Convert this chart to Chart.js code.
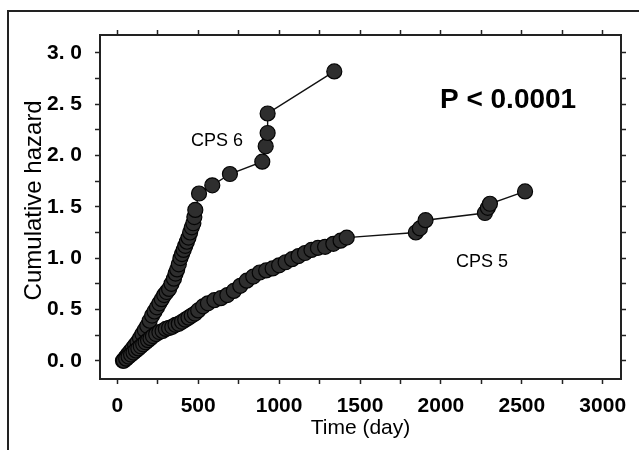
<!DOCTYPE html>
<html><head><meta charset="utf-8">
<script src="https://cdn.jsdelivr.net/npm/chart.js@4"></script>
<style>
html,body{margin:0;padding:0;background:#fff;overflow:hidden;}
#wrap{position:relative;width:639px;height:450px;}
#frame{position:absolute;left:7px;top:10px;width:640px;height:450px;border-left:2px solid #222;border-top:2px solid #222;}
canvas{position:absolute;left:0;top:0;}
</style></head><body>
<div id="wrap"><div id="frame"></div><canvas id="c" width="639" height="450"></canvas></div>
<script>
// CPS 6 series
const cps6Days = [35,50,65,80,95,110,125,140,155,170,185,200,215,230,245,260,275,290,305,320,335,350,360,370,380,390,400,410,420,430,440,450,460,470,476,482,505,587,696,896,917,929,929,1341];
const cps6Hazard = [0.00,0.03,0.06,0.09,0.12,0.15,0.18,0.22,0.26,0.30,0.34,0.39,0.44,0.48,0.52,0.56,0.60,0.64,0.67,0.70,0.75,0.80,0.85,0.89,0.94,1.00,1.04,1.08,1.12,1.16,1.20,1.25,1.30,1.34,1.40,1.47,1.63,1.71,1.82,1.94,2.09,2.22,2.41,2.82];
// CPS 5 series
const cps5Days = [40,55,70,85,100,115,130,145,160,175,190,205,220,240,260,280,300,320,340,360,380,400,420,440,460,480,500,530,560,600,640,680,720,760,800,840,880,920,960,1000,1040,1080,1120,1160,1200,1240,1284,1335,1380,1418,1845,1870,1905,2272,2290,2303,2520];
const cps5Hazard = [0.00,0.02,0.04,0.06,0.08,0.10,0.12,0.14,0.16,0.18,0.20,0.22,0.24,0.26,0.28,0.29,0.31,0.32,0.33,0.35,0.36,0.38,0.40,0.42,0.44,0.46,0.49,0.53,0.56,0.59,0.61,0.64,0.68,0.73,0.78,0.82,0.86,0.88,0.90,0.93,0.96,0.99,1.02,1.05,1.08,1.10,1.11,1.14,1.17,1.20,1.25,1.29,1.37,1.44,1.49,1.53,1.65];
// axis ticks (all tick marks) and which of them carry labels
const xTickValues = [0,250,500,750,1000,1250,1500,1750,2000,2250,2500,2750,3000];
const xTickLabels = ['0','','500','','1000','','1500','','2000','','2500','','3000'];
const yTickValues = [0,0.25,0.5,0.75,1,1.25,1.5,1.75,2,2.25,2.5,2.75,3];
const yTickLabels = ['0. 0','','0. 5','','1. 0','','1. 5','','2. 0','','2. 5','','3. 0'];
const xRange = [-107, 3113];
const yRange = [-0.178, 3.175];
// text annotations (data coordinates)
const noteTexts = ['CPS 6', 'CPS 5', 'P < 0.0001'];
const noteDays = [616, 2254, 2415];
const noteHazard = [2.14, 0.96, 2.54];
const noteFonts = ['18px "Liberation Sans", Arial, sans-serif', '18px "Liberation Sans", Arial, sans-serif', 'bold 28px "Liberation Sans", Arial, sans-serif'];

const pts = (xs, ys) => xs.map((d, i) => ({x: d, y: ys[i]}));
const tickFont = {family: '"Liberation Sans Narrow", "Arial Narrow", "Liberation Sans", Arial, sans-serif', size: 21, weight: 'bold'};
const axisColor = '#222';

const seriesStyle = {
  showLine: true, borderColor: '#111', borderWidth: 1.4,
  pointRadius: 7.5, pointBackgroundColor: '#2e2e2e', pointBorderColor: '#050505', pointBorderWidth: 1.2,
  tension: 0
};

const notesPlugin = {
  id: 'notes',
  afterDatasetsDraw(chart) {
    const {ctx, scales} = chart;
    ctx.save();
    ctx.fillStyle = '#000';
    ctx.textAlign = 'center';
    ctx.textBaseline = 'middle';
    noteTexts.forEach((t, i) => {
      ctx.font = noteFonts[i];
      ctx.fillText(t, scales.x.getPixelForValue(noteDays[i]), scales.y.getPixelForValue(noteHazard[i]));
    });
    ctx.restore();
  }
};

const setTicks = vals => s => { s.ticks = vals.map(v => ({value: v})); };
const labelFrom = (vals, labels) => v => {
  const i = vals.findIndex(t => Math.abs(t - v) < 1e-6);
  return i >= 0 ? labels[i] : '';
};

const gridOpt = {drawOnChartArea: false, tickLength: 5, tickColor: axisColor, tickWidth: 1.5};
const borderOpt = {color: axisColor, width: 2};

new Chart(document.getElementById('c'), {
  type: 'scatter',
  data: {
    datasets: [
      Object.assign({label: 'CPS 5', data: pts(cps5Days, cps5Hazard)}, seriesStyle),
      Object.assign({label: 'CPS 6', data: pts(cps6Days, cps6Hazard)}, seriesStyle)
    ]
  },
  options: {
    responsive: false, animation: false, clip: false,
    layout: {padding: {left: 0, top: 35, right: 18, bottom: 0}},
    plugins: {legend: {display: false}, tooltip: {enabled: false}},
    scales: {
      x: {
        type: 'linear', position: 'bottom', min: xRange[0], max: xRange[1],
        afterBuildTicks: setTicks(xTickValues),
        ticks: {autoSkip: false, maxRotation: 0, minRotation: 0, color: '#000', font: tickFont, padding: 10,
          callback: labelFrom(xTickValues, xTickLabels)},
        grid: gridOpt, border: borderOpt,
        title: {display: true, text: 'Time (day)', color: '#000', font: {family: '"Liberation Sans", Arial, sans-serif', size: 21}, padding: {top: 0, bottom: 9}},
        afterFit: s => { s.height = 71; }
      },
      x2: {
        type: 'linear', position: 'top', min: xRange[0], max: xRange[1],
        afterBuildTicks: setTicks(xTickValues),
        ticks: {display: false},
        grid: gridOpt, border: borderOpt,
        afterFit: s => { s.height = 0; }
      },
      y: {
        type: 'linear', position: 'left', min: yRange[0], max: yRange[1],
        afterBuildTicks: setTicks(yTickValues),
        ticks: {autoSkip: false, color: '#000', font: tickFont, padding: 13,
          callback: labelFrom(yTickValues, yTickLabels)},
        grid: gridOpt, border: borderOpt,
        title: {display: true, text: '  Cumulative hazard', color: '#000', font: {family: '"Liberation Sans", Arial, sans-serif', size: 24}, padding: {top: 20, bottom: 0}},
        afterFit: s => { s.width = 100; }
      },
      y2: {
        type: 'linear', position: 'right', min: yRange[0], max: yRange[1],
        afterBuildTicks: setTicks(yTickValues),
        ticks: {display: false},
        grid: gridOpt, border: borderOpt,
        afterFit: s => { s.width = 0; }
      }
    }
  },
  plugins: [notesPlugin]
});
</script>
</body></html>
